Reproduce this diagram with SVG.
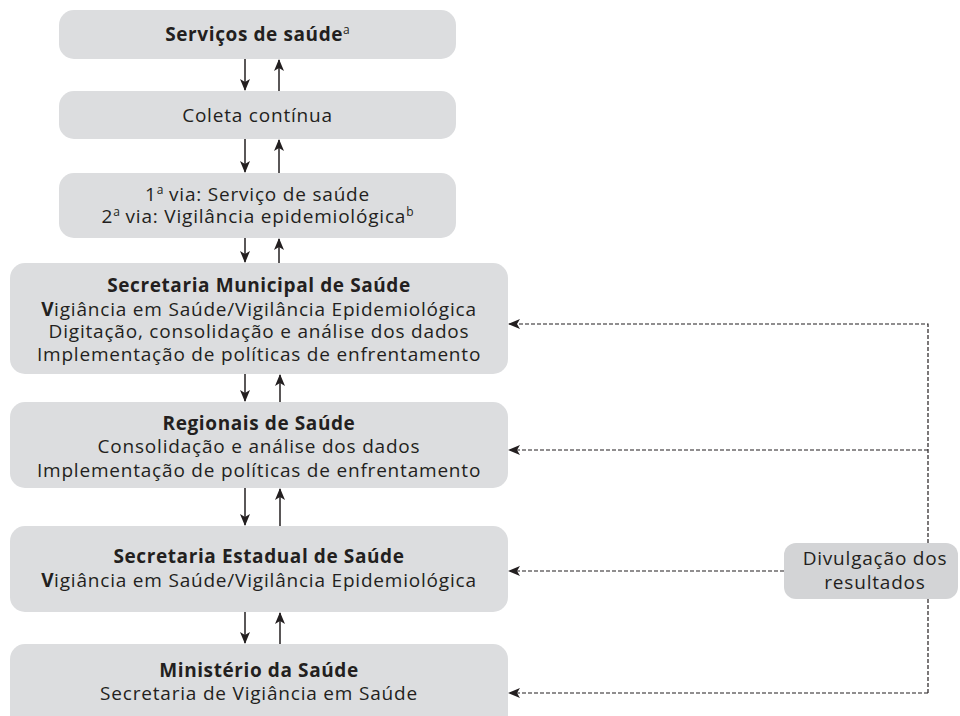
<svg xmlns="http://www.w3.org/2000/svg" width="960" height="716" viewBox="0 0 960 716">
<defs>
<style>
.box{fill:#dcdddf}
.box2{fill:#d3d4d6}
text{font-family:"Open Sans","Noto Sans","Liberation Sans",sans-serif;font-size:19px;letter-spacing:0.8px;fill:#231f20;text-anchor:middle}
.b{font-weight:bold;letter-spacing:0.6px}
.sup{font-size:12px;letter-spacing:0}
.ln{stroke:#231f20;stroke-width:1.5;fill:none}
.dash{stroke:#231f20;stroke-width:1.2;fill:none;stroke-dasharray:4 2}
</style>
<marker id="ah" viewBox="0 0 12 10" refX="11" refY="5" markerWidth="12" markerHeight="10" markerUnits="userSpaceOnUse" orient="auto">
<path d="M0,0 L12,5 L0,10 L3,5 Z" fill="#231f20"/>
</marker>
</defs>
<rect width="960" height="716" fill="#ffffff"/>
<g id="n1"><rect class="box" x="59" y="10" width="397" height="49" rx="15"/>
<text x="257.5" y="41" class="b">Serviços de saúde<tspan class="sup" dy="-7" font-weight="normal">a</tspan></text></g>
<g id="n2"><rect class="box" x="59" y="91" width="397" height="48" rx="15"/>
<text x="257.5" y="122">Coleta contínua</text></g>
<g id="n3"><rect class="box" x="59" y="173" width="397" height="65" rx="15"/>
<text x="257.5" y="201">1<tspan class="sup" dy="-7">a</tspan><tspan dy="7"> via: Serviço de saúde</tspan></text>
<text x="257.5" y="223">2<tspan class="sup" dy="-7">a</tspan><tspan dy="7"> via: Vigilância epidemiológica</tspan><tspan class="sup" dy="-7">b</tspan></text></g>
<g id="n4"><rect class="box" x="10" y="263" width="498" height="111" rx="15"/>
<text x="259" y="292" class="b">Secretaria Municipal de Saúde</text>
<text x="259" y="316"><tspan class="b">V</tspan>igiância em Saúde/Vigilância Epidemiológica</text>
<text x="259" y="338">Digitação, consolidação e análise dos dados</text>
<text x="259" y="361">Implementação de políticas de enfrentamento</text></g>
<g id="n5"><rect class="box" x="10" y="402" width="498" height="86" rx="15"/>
<text x="259" y="430" class="b">Regionais de Saúde</text>
<text x="259" y="453">Consolidação e análise dos dados</text>
<text x="259" y="477">Implementação de políticas de enfrentamento</text></g>
<g id="n6"><rect class="box" x="10" y="526" width="498" height="86" rx="15"/>
<text x="259" y="563" class="b">Secretaria Estadual de Saúde</text>
<text x="259" y="587"><tspan class="b">V</tspan>igiância em Saúde/Vigilância Epidemiológica</text></g>
<g id="n7"><rect class="box" x="10" y="644" width="498" height="86" rx="15"/>
<text x="259" y="677" class="b">Ministério da Saúde</text>
<text x="259" y="700">Secretaria de Vigiância em Saúde</text></g>
<g id="connectors">
<path class="ln" d="M245,59 V90" marker-end="url(#ah)"/>
<path class="ln" d="M279,91 V60" marker-end="url(#ah)"/>
<path class="ln" d="M245,139 V172" marker-end="url(#ah)"/>
<path class="ln" d="M279,173 V140" marker-end="url(#ah)"/>
<path class="ln" d="M245,238 V262" marker-end="url(#ah)"/>
<path class="ln" d="M279,263 V239" marker-end="url(#ah)"/>
<path class="ln" d="M245,374 V401" marker-end="url(#ah)"/>
<path class="ln" d="M280,402 V375" marker-end="url(#ah)"/>
<path class="ln" d="M245,488 V525" marker-end="url(#ah)"/>
<path class="ln" d="M280,526 V489" marker-end="url(#ah)"/>
<path class="ln" d="M245,612 V643" marker-end="url(#ah)"/>
<path class="ln" d="M280,644 V613" marker-end="url(#ah)"/>
<path class="dash" d="M928,693 V324 H509" marker-end="url(#ah)"/>
<path class="dash" d="M928,450 H509" marker-end="url(#ah)"/>
<path class="dash" d="M784,571 H509" marker-end="url(#ah)"/>
<path class="dash" d="M928,693 H509" marker-end="url(#ah)"/>
</g>
<g id="n8"><rect class="box2" x="784" y="543" width="174" height="56" rx="12"/>
<text x="875" y="565">Divulgação dos</text>
<text x="875" y="589">resultados</text></g>
</svg>
